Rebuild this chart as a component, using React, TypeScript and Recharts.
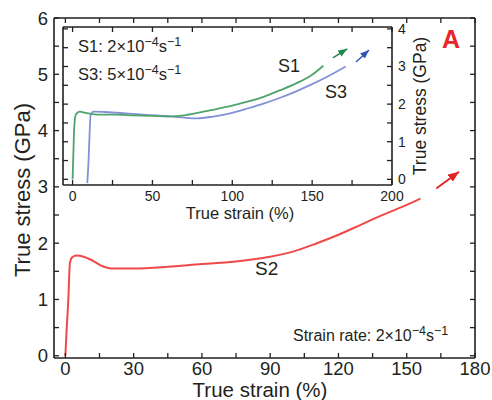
import { LineChart, Line, XAxis, YAxis } from 'recharts';

const FONT = '"Liberation Sans", Arial, Helvetica, sans-serif';
const INK = '#231f20';
const RED = '#f04848';
const RED_DARK = '#e02424';
const GREEN = '#4fa36c';
const GREEN_DARK = '#1f8a4a';
const BLUE = '#8391d6';
const BLUE_DARK = '#3553b5';

/* ─── main panel: S2, strain rate 2e-4 /s ─── */
const s2Strain = [0, 0.6, 1.3, 2, 3, 5, 8, 11, 14, 17, 20, 30, 45, 60, 74, 82, 90, 100, 110, 120, 130, 140, 150, 156];
const s2Stress = [0, 0.5, 1.0, 1.65, 1.75, 1.78, 1.76, 1.71, 1.64, 1.58, 1.55, 1.55, 1.58, 1.63, 1.67, 1.71, 1.76, 1.85, 1.99, 2.15, 2.33, 2.51, 2.68, 2.79];
const s2ArrowStrain = [163, 173];
const s2ArrowStress = [2.97, 3.27];

/* ─── inset: S1 (2e-4 /s) and S3 (5e-4 /s) ─── */
const s1Strain = [0, 0.5, 1, 2, 4.5, 8, 17, 28, 38, 50, 60, 70, 80, 90, 100, 110, 120, 130, 140, 150, 157];
const s1Stress = [0, 0.7, 1.35, 1.72, 1.8, 1.77, 1.72, 1.72, 1.7, 1.69, 1.67, 1.7, 1.78, 1.87, 1.96, 2.07, 2.2, 2.37, 2.55, 2.78, 3.02];
const s1ArrowStrain = [163, 172];
const s1ArrowStress = [3.23, 3.47];

const s3Strain = [9.2, 10, 10.5, 11.3, 13, 20, 28, 38, 48, 56, 63, 70, 78, 88, 100, 110, 120, 130, 140, 150, 160, 171];
const s3Stress = [-0.1, 0.5, 1.05, 1.71, 1.8, 1.79, 1.77, 1.74, 1.71, 1.69, 1.67, 1.64, 1.62, 1.67, 1.77, 1.89, 2.02, 2.17, 2.34, 2.53, 2.74, 3.0];
const s3ArrowStrain = [177.5, 185.6];
const s3ArrowStress = [3.12, 3.44];

/* ─── ticks ─── */
const mainXTicks = [0, 15, 30, 45, 60, 75, 90, 105, 120, 135, 150, 165, 180];
const mainYTicks = [0, 0.5, 1, 1.5, 2, 2.5, 3, 3.5, 4, 4.5, 5, 5.5, 6];
const insetXTicks = [0, 25, 50, 75, 100, 125, 150, 175, 200];
const insetYTicks = [0, 0.5, 1, 1.5, 2, 2.5, 3, 3.5, 4];

const toPoints = (xs: number[], ys: number[]) => xs.map((x, i) => ({ x, y: ys[i] }));

const s2Data = toPoints(s2Strain, s2Stress);
const s2Arrow = toPoints(s2ArrowStrain, s2ArrowStress);
const s1Data = toPoints(s1Strain, s1Stress);
const s1Arrow = toPoints(s1ArrowStrain, s1ArrowStress);
const s3Data = toPoints(s3Strain, s3Stress);
const s3Arrow = toPoints(s3ArrowStrain, s3ArrowStress);

const every = (step: number) => (v: number) => (Math.abs(v / step - Math.round(v / step)) < 1e-6 ? String(v) : '');
const blank = () => '';

const axisLine = { stroke: INK, strokeWidth: 1.6 };
const tickLine = { stroke: INK, strokeWidth: 1.3 };

function Sup({ children, dy = 6, size = 12.5 }: { children: string; dy?: number; size?: number }) {
  return <tspan dy={-dy} fontSize={size}>{children}</tspan>;
}

export default function App() {
  const mainTick = { fill: INK, fontSize: 18.5, fontFamily: FONT };
  const insetTick = { fill: INK, fontSize: 14, fontFamily: FONT };

  return (
    <div style={{ position: 'absolute', left: 0, top: 0, width: 492, height: 400, background: '#fff' }}>
      {/* arrow heads shared by the charts */}
      <svg width={0} height={0} style={{ position: 'absolute' }}>
        <defs>
          <marker id="headRed" markerUnits="userSpaceOnUse" markerWidth={12} markerHeight={10} refX={11} refY={4.5} orient="auto">
            <path d="M0,0 L11,4.5 L0,9 z" fill={RED_DARK} />
          </marker>
          <marker id="headGreen" markerUnits="userSpaceOnUse" markerWidth={10} markerHeight={8} refX={9} refY={3.5} orient="auto">
            <path d="M0,0 L9,3.5 L0,7 z" fill={GREEN_DARK} />
          </marker>
          <marker id="headBlue" markerUnits="userSpaceOnUse" markerWidth={10} markerHeight={8} refX={9} refY={3.5} orient="auto">
            <path d="M0,0 L9,3.5 L0,7 z" fill={BLUE_DARK} />
          </marker>
        </defs>
      </svg>

      {/* main panel */}
      <div style={{ position: 'absolute', left: 0, top: 0 }}>
        <LineChart width={492} height={400} margin={{ top: 0, right: 0, bottom: 0, left: 0 }}>
          <XAxis xAxisId="b" type="number" dataKey="x" domain={[-5, 180]} allowDataOverflow ticks={mainXTicks} interval={0}
            height={42} tickSize={-5} tickMargin={9} tickFormatter={every(30)} tick={mainTick} axisLine={axisLine} tickLine={tickLine} />
          <XAxis xAxisId="t" orientation="top" type="number" dataKey="x" domain={[-5, 180]} allowDataOverflow ticks={mainXTicks} interval={0}
            height={18} tickSize={-5} tickFormatter={blank} axisLine={axisLine} tickLine={tickLine} />
          <YAxis yAxisId="l" type="number" domain={[-0.04, 6]} allowDataOverflow ticks={mainYTicks} interval={0}
            width={54} tickSize={-5} tickMargin={11} tickFormatter={every(1)} tick={mainTick} axisLine={axisLine} tickLine={tickLine} />
          <YAxis yAxisId="r" orientation="right" type="number" domain={[-0.04, 6]} allowDataOverflow ticks={mainYTicks} interval={0}
            width={17} tickSize={-5} tickFormatter={blank} axisLine={axisLine} tickLine={tickLine} />
          <Line xAxisId="b" yAxisId="l" data={s2Data} dataKey="y" type="monotone" stroke={RED} strokeWidth={2}
            dot={false} isAnimationActive={false} />
          <Line xAxisId="b" yAxisId="l" data={s2Arrow} dataKey="y" type="linear" stroke={RED_DARK} strokeWidth={1.8}
            dot={false} isAnimationActive={false} markerEnd="url(#headRed)" />
        </LineChart>
      </div>

      {/* inset */}
      <div style={{ position: 'absolute', left: 0, top: 0 }}>
        <LineChart width={440} height={225} margin={{ top: 0, right: 0, bottom: 0, left: 0 }}>
          <XAxis xAxisId="b" type="number" dataKey="x" domain={[-6, 200]} allowDataOverflow ticks={insetXTicks} interval={0}
            height={40} tickSize={-5} tickMargin={11} tickFormatter={every(50)} tick={insetTick} axisLine={axisLine} tickLine={tickLine} />
          <XAxis xAxisId="t" orientation="top" type="number" dataKey="x" domain={[-6, 200]} allowDataOverflow ticks={insetXTicks} interval={0}
            height={27} tickSize={-5} tickFormatter={blank} axisLine={axisLine} tickLine={tickLine} />
          <YAxis yAxisId="l" type="number" domain={[-0.15, 4.05]} allowDataOverflow ticks={insetYTicks} interval={0}
            width={63} tickSize={-5} tickFormatter={blank} axisLine={axisLine} tickLine={tickLine} />
          <YAxis yAxisId="r" orientation="right" type="number" domain={[-0.15, 4.05]} allowDataOverflow ticks={insetYTicks} interval={0}
            width={48} tickSize={-5} tickMargin={11} tickFormatter={every(1)} tick={insetTick} axisLine={axisLine} tickLine={tickLine} />
          <Line xAxisId="b" yAxisId="l" data={s3Data} dataKey="y" type="monotone" stroke={BLUE} strokeWidth={1.8}
            dot={false} isAnimationActive={false} />
          <Line xAxisId="b" yAxisId="l" data={s1Data} dataKey="y" type="monotone" stroke={GREEN} strokeWidth={1.8}
            dot={false} isAnimationActive={false} />
          <Line xAxisId="b" yAxisId="l" data={s1Arrow} dataKey="y" type="linear" stroke={GREEN_DARK} strokeWidth={1.5}
            dot={false} isAnimationActive={false} markerEnd="url(#headGreen)" />
          <Line xAxisId="b" yAxisId="l" data={s3Arrow} dataKey="y" type="linear" stroke={BLUE_DARK} strokeWidth={1.5}
            dot={false} isAnimationActive={false} markerEnd="url(#headBlue)" />
        </LineChart>
      </div>

      {/* titles and annotations */}
      <svg width={492} height={400} style={{ position: 'absolute', left: 0, top: 0, pointerEvents: 'none' }}
        fontFamily={FONT} fill={INK}>
        <text x={260} y={397} fontSize={20.5} textAnchor="middle">True strain (%)</text>
        <text transform="translate(30,190) rotate(-90)" fontSize={22} textAnchor="middle">True stress (GPa)</text>
        <text x={240} y={219} fontSize={16.5} textAnchor="middle">True strain (%)</text>
        <text transform="translate(426,106) rotate(-90)" fontSize={17.5} textAnchor="middle">True stress (GPa)</text>
        <text x={442} y={48} fontSize={25} fontWeight="bold" fill="#e8262c">A</text>

        <text x={78} y={52} fontSize={16.5}>
          S1: 2×10<Sup>−4</Sup><tspan dy={6}>s</tspan><Sup>−1</Sup>
        </text>
        <text x={78} y={80} fontSize={16.5}>
          S3: 5×10<Sup>−4</Sup><tspan dy={6}>s</tspan><Sup>−1</Sup>
        </text>
        <text x={278} y={72} fontSize={18}>S1</text>
        <text x={325} y={98} fontSize={18}>S3</text>
        <text x={255} y={275} fontSize={19}>S2</text>
        <text x={293} y={341} fontSize={16}>
          Strain rate: 2×10<Sup size={12.5}>−4</Sup><tspan dy={6}>s</tspan><Sup size={12.5}>−1</Sup>
        </text>
      </svg>
    </div>
  );
}
